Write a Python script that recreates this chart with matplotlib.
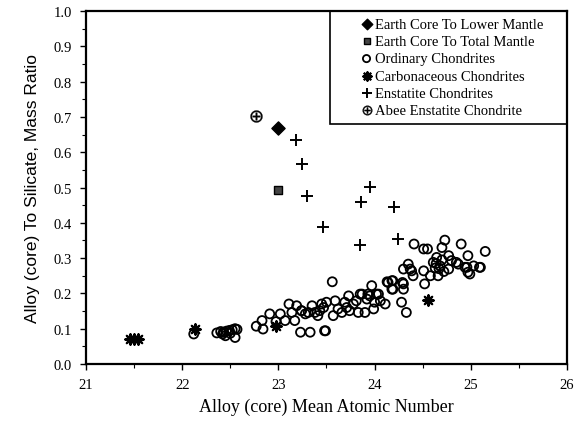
import matplotlib
matplotlib.use("Agg")
import matplotlib.pyplot as plt
from matplotlib.patches import Rectangle
from matplotlib.ticker import MultipleLocator

# ---- data ----
lower_mantle_x = [23.0]
lower_mantle_y = [0.668]
total_mantle_x = [23.0]
total_mantle_y = [0.494]
abee_x = [22.77]
abee_y = [0.703]

enstatite_x = [23.18, 23.245, 23.30, 23.464, 23.859, 23.949, 24.198, 23.848, 24.24]
enstatite_y = [0.635, 0.568, 0.477, 0.387, 0.458, 0.502, 0.445, 0.338, 0.354]

carb_x = [21.46, 21.50, 21.54, 22.13, 22.98, 24.55]
carb_y = [0.072, 0.070, 0.072, 0.098, 0.108, 0.181]

ord_x = [
    22.12, 22.36, 22.40, 22.43, 22.46, 22.49, 22.52, 22.55, 22.57, 22.45, 22.42, 22.55, 22.50,
    22.77, 22.83, 22.84, 22.91, 22.975, 23.02, 23.07, 23.11, 23.14, 23.17, 23.24, 23.23,
    23.56, 23.19, 23.35, 23.38, 23.45, 23.50, 23.59, 23.62, 23.57, 23.41, 23.73, 23.69,
    23.78, 23.81, 23.87, 23.92, 23.97, 23.95, 24.02, 24.00, 23.99, 23.90, 23.83, 23.74,
    23.66, 24.11, 24.06, 24.14, 24.18, 24.18, 23.24, 23.49, 23.47, 23.43, 23.31, 23.28,
    23.71, 23.33, 23.48,
    24.41, 24.51, 24.55, 24.73, 24.70, 24.90, 25.15, 24.97, 24.77, 24.645, 24.61, 24.35,
    24.30, 24.385, 24.40, 24.51, 24.58, 24.66, 24.68, 24.77, 24.80, 24.87, 24.96, 24.99,
    25.03, 25.10, 24.52, 24.19, 24.30, 24.19, 24.30, 24.28, 24.33, 24.85, 24.94, 24.97,
    25.09, 24.64, 24.67, 24.70, 24.63, 24.72, 24.29, 24.37, 24.04, 23.93, 23.85, 24.13,
]
ord_y = [
    0.085, 0.088, 0.092, 0.090, 0.093, 0.095, 0.097, 0.100, 0.098, 0.080, 0.085, 0.075, 0.087,
    0.107, 0.123, 0.099, 0.142, 0.120, 0.142, 0.123, 0.170, 0.146, 0.123, 0.151, 0.090,
    0.233, 0.165, 0.165, 0.146, 0.170, 0.175, 0.179, 0.156, 0.137, 0.137, 0.193, 0.175,
    0.170, 0.179, 0.198, 0.184, 0.222, 0.193, 0.198, 0.175, 0.156, 0.146, 0.146, 0.151,
    0.146, 0.170, 0.179, 0.231, 0.236, 0.212, 0.151, 0.094, 0.160, 0.151, 0.146, 0.142,
    0.160, 0.090, 0.094,
    0.340, 0.326, 0.326, 0.351, 0.330, 0.340, 0.319, 0.307, 0.307, 0.302, 0.288, 0.283,
    0.269, 0.264, 0.250, 0.264, 0.250, 0.250, 0.278, 0.269, 0.293, 0.283, 0.274, 0.255,
    0.278, 0.274, 0.227, 0.236, 0.227, 0.212, 0.212, 0.175, 0.146, 0.288, 0.274, 0.260,
    0.274, 0.285, 0.270, 0.295, 0.272, 0.262, 0.231, 0.269, 0.198, 0.198, 0.198, 0.233,
]

x_ticks = [21, 22, 23, 24, 25, 26]
y_ticks = [0.0, 0.1, 0.2, 0.3, 0.4, 0.5, 0.6, 0.7, 0.8, 0.9, 1.0]

serif = ["Liberation Serif", "DejaVu Serif"]
sans = ["Liberation Sans", "DejaVu Sans"]

fig = plt.figure(figsize=(5.74, 4.35), dpi=100)
ax = fig.add_axes([0.1498, 0.161, 0.838, 0.811])

ax.scatter(lower_mantle_x, lower_mantle_y, marker="D", s=45, c="black", zorder=4,
           label="Earth Core To Lower Mantle")
ax.scatter(total_mantle_x, total_mantle_y, marker="s", s=30, c="#444444", edgecolors="black",
           linewidths=1, zorder=4, label="Earth Core To Total Mantle")
ax.scatter(ord_x, ord_y, marker="o", s=42, facecolors="none", edgecolors="black",
           linewidths=1.3, zorder=3, label="Ordinary Chondrites")
ax.scatter(carb_x, carb_y, marker=(8, 2, 0), s=55, c="black", linewidths=1.6, zorder=4,
           label="Carbonaceous Chondrites")
ax.scatter(enstatite_x, enstatite_y, marker="+", s=80, c="black", linewidths=1.4, zorder=4,
           label="Enstatite Chondrites")
ax.scatter(abee_x, abee_y, marker=r"$\oplus$", s=75, c="black", linewidths=0.2, zorder=4,
           label="Abee Enstatite Chondrite")

ax.set_xlim(21, 26)
ax.set_ylim(0, 1.0)
ax.set_xticks(x_ticks)
ax.set_yticks(y_ticks)
ax.set_yticklabels([f"{v:.1f}" for v in y_ticks])
ax.xaxis.set_minor_locator(MultipleLocator(0.5))
ax.yaxis.set_minor_locator(MultipleLocator(0.05))
ax.tick_params(which="major", direction="out", length=4, width=1, labelsize=10.5, pad=6)
ax.tick_params(which="minor", direction="out", length=3, width=0.8)
for lab in ax.get_xticklabels() + ax.get_yticklabels():
    lab.set_fontfamily(serif)
for sp in ax.spines.values():
    sp.set_linewidth(1.6)

ax.set_xlabel("Alloy (core) Mean Atomic Number", fontsize=13, family=serif, labelpad=5)
ax.set_ylabel("Alloy (core) To Silicate, Mass Ratio", fontsize=12.5, family=sans, labelpad=10)

# legend frame
ax.add_patch(Rectangle((0.507, 0.68), 0.493, 0.32, transform=ax.transAxes, fill=False,
                       edgecolor="black", linewidth=1.2, zorder=5))
leg = ax.legend(loc="upper left", bbox_to_anchor=(0.562, 0.99), frameon=False,
                prop={"family": serif, "size": 10.5}, handletextpad=0.05, labelspacing=0.28,
                handlelength=1.0, borderaxespad=0, borderpad=0.2, scatterpoints=1,
                markerscale=0.8)

fig.savefig("out.png", dpi=100)
